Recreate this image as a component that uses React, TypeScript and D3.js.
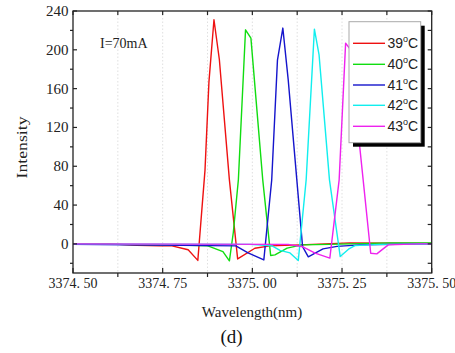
import React from "react";
import * as d3 from "d3";

const labels = ["39", "40", "41", "42", "43"];
const colors = ["#ee1111", "#11dd11", "#1515cc", "#11eeee", "#ee22ee"];

const wl39 = [3374.5, 3374.603, 3374.678, 3374.743, 3374.776, 3374.821, 3374.848, 3374.868, 3374.879, 3374.893, 3374.908, 3374.936, 3374.959, 3375.007, 3375.049, 3375.133, 3375.272, 3375.5];
const int39 = [0, 0, -1.5, -2, -2, -6, -17, 76, 167, 231, 190, 66, -15.5, -4.5, -2, -1, 1, 0.5];

const wl40 = [3374.5, 3374.798, 3374.876, 3374.918, 3374.936, 3374.947, 3374.961, 3374.981, 3374.996, 3375.029, 3375.051, 3375.063, 3375.097, 3375.138, 3375.216, 3375.384, 3375.5];
const int40 = [0, -1.3, -2, -7.9, -17.5, 12, 66, 220.6, 212, 66, -11.9, -11.3, -4.4, -1, -0.5, 1, 1];

const wl41 = [3374.5, 3374.954, 3374.988, 3375.032, 3375.054, 3375.07, 3375.085, 3375.1, 3375.124, 3375.14, 3375.156, 3375.175, 3375.197, 3375.236, 3375.3, 3375.5];
const int41 = [-0.5, -2, -9.3, -16.5, 66, 189.4, 222.4, 169, 66, -2.8, -13.4, -9.6, -5.2, -2.6, -1, 0];

const wl42 = [3374.5, 3374.993, 3375.055, 3375.077, 3375.105, 3375.128, 3375.15, 3375.173, 3375.186, 3375.215, 3375.245, 3375.268, 3375.286, 3375.356, 3375.5];
const int42 = [0, -0.5, -2, -6.7, -9.3, -17.2, 66, 221.3, 194.8, 66, -13.1, -5.5, -1.8, -0.5, 0];

const wl43 = [3374.5, 3375.1, 3375.141, 3375.175, 3375.216, 3375.242, 3375.26, 3375.271, 3375.309, 3375.33, 3375.347, 3375.361, 3375.379, 3375.467, 3375.5];
const int43 = [0, -0.5, -3, -9.6, -14.7, 66, 206.9, 201.5, 65.7, -9.6, -10.3, -6.2, -1, 0, 0];

const xTickLabels = ["3374. 50", "3374. 75", "3375. 00", "3375. 25", "3375. 50"];
const xMajor = [3374.5, 3374.75, 3375.0, 3375.25, 3375.5];
const xMinor = [3374.625, 3374.875, 3375.125, 3375.375];
const yMajor = [0, 40, 80, 120, 160, 200, 240];
const yMinor = [-20, 20, 60, 100, 140, 180, 220];

const seriesWl = [wl39, wl40, wl41, wl42, wl43];
const seriesInt = [int39, int40, int41, int42, int43];

export default function App() {
  const W = 455, H = 353;
  const L = 73, R = 431.7, T = 11, B = 273;
  const x = d3.scaleLinear().domain([3374.5, 3375.5]).range([L, R]);
  const y = d3.scaleLinear().domain([-30, 240]).range([B, T]);
  const line = d3.line<[number, number]>().x((d) => x(d[0])).y((d) => y(d[1]));
  const serif = "'Liberation Serif', 'Times New Roman', serif";
  const sans = "'Liberation Sans', Arial, sans-serif";
  const gridX = [...xMajor.slice(1, -1), ...xMinor];
  const legX = 349, legY = 21.7, legW = 71.7, legH = 121;
  const rowY = [43.3, 64.3, 85, 105.3, 126.3];
  return (
    <svg width={W} height={H} style={{ position: "absolute", left: 0, top: 0, background: "#fff" }}>
      <rect x={0} y={0} width={W} height={H} fill="#fff" />
      {gridX.map((v, i) => (
        <line key={"g" + i} x1={x(v)} x2={x(v)} y1={T} y2={B} stroke="#d8d8d8" strokeWidth={0.8} strokeDasharray="1.5,2" />
      ))}
      {seriesWl.map((wl, i) => (
        <path key={"s" + i} d={line(wl.map((w, j) => [w, seriesInt[i][j]] as [number, number])) || ""} fill="none" stroke={colors[i]} strokeWidth={1.4} strokeLinejoin="round" />
      ))}
      <rect x={L} y={T} width={R - L} height={B - T} fill="none" stroke="#222" strokeWidth={1.3} />
      {xMajor.map((v, i) => (
        <line key={"bx" + i} x1={x(v)} x2={x(v)} y1={B} y2={B - 5} stroke="#222" strokeWidth={1.2} />
      ))}
      {xMinor.map((v, i) => (
        <line key={"bm" + i} x1={x(v)} x2={x(v)} y1={B} y2={B + 4} stroke="#222" strokeWidth={1.2} />
      ))}
      {[...xMajor, ...xMinor].map((v, i) => (
        <line key={"tx" + i} x1={x(v)} x2={x(v)} y1={T} y2={T + 4} stroke="#222" strokeWidth={1.2} />
      ))}
      {yMajor.map((v, i) => (
        <line key={"ly" + i} x1={L} x2={L + 4} y1={y(v)} y2={y(v)} stroke="#222" strokeWidth={1.2} />
      ))}
      {yMinor.map((v, i) => (
        <line key={"lm" + i} x1={L} x2={L - 3} y1={y(v)} y2={y(v)} stroke="#222" strokeWidth={1.2} />
      ))}
      {[...yMajor, ...yMinor].map((v, i) => (
        <line key={"ry" + i} x1={R} x2={R - 4} y1={y(v)} y2={y(v)} stroke="#222" strokeWidth={1.2} />
      ))}
      {xMajor.map((v, i) => (
        <text key={"xl" + i} x={x(v)} y={288.3} textAnchor="middle" fontFamily={serif} fontSize={14} fill="#222">
          {xTickLabels[i]}
        </text>
      ))}
      {yMajor.map((v, i) => (
        <text key={"yl" + i} x={68.5} y={y(v) + 5} textAnchor="end" fontFamily={serif} fontSize={15} fill="#222">
          {v}
        </text>
      ))}
      <text x={252} y={316.5} textAnchor="middle" fontFamily={serif} fontSize={15} fill="#222">Wavelength(nm)</text>
      <text transform="translate(26.5,147.5) rotate(-90)" textAnchor="middle" fontFamily={serif} fontSize={15} fill="#222" textLength={62} lengthAdjust="spacingAndGlyphs">Intensity</text>
      <text x={100} y={48.3} fontFamily={serif} fontSize={14} fill="#222">I=70mA</text>
      <text x={231.5} y={343} textAnchor="middle" fontFamily={serif} fontSize={19} fill="#111">(d)</text>
      <rect x={legX + 4} y={legY + 4} width={legW} height={legH} fill="#000" />
      <rect x={legX} y={legY} width={legW} height={legH} fill="#fff" stroke="#aaa" strokeWidth={1} />
      {labels.map((lb, i) => (
        <g key={"lg" + i}>
          <line x1={353} x2={385} y1={rowY[i]} y2={rowY[i]} stroke={colors[i]} strokeWidth={1.4} />
          <text x={387.5} y={rowY[i] + 5} fontFamily={sans} fontSize={14} fill="#222">
            {lb}
            <tspan fontSize={9} dy={-6}>o</tspan>
            <tspan dy={6}>C</tspan>
          </text>
        </g>
      ))}
    </svg>
  );
}
